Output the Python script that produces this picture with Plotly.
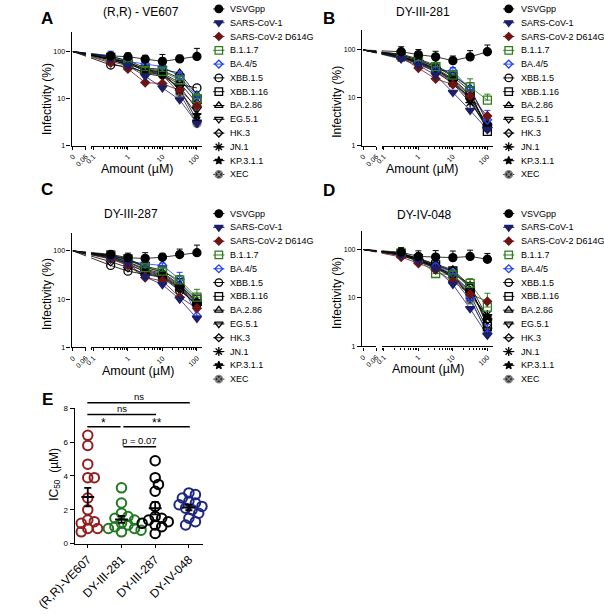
import numpy as np
import plotly.graph_objects as go

W, H = 604, 614
FONT = "Arial, Liberation Sans, sans-serif"

# ---------------- data ----------------
X_DOSE = [0, 0.316, 1, 3.16, 10, 31.6, 100]          # µM
ZERO_POS = 0.0254   # stand-in position used to show dose 0 on the broken log axis

SERIES = ["VSVGpp", "SARS-CoV-1", "SARS-CoV-2 D614G", "B.1.1.7", "BA.4/5", "XBB.1.5",
          "XBB.1.16", "BA.2.86", "EG.5.1", "HK.3", "JN.1", "KP.3.1.1", "XEC"]
PANEL_TITLES = ["(R,R) - VE607", "DY-III-281", "DY-III-287", "DY-IV-048"]
PANEL_LETTERS = ["A", "B", "C", "D"]

VE607 = [
    [100, 81, 78, 69, 62, 70, 79],
    [100, 70, 50, 30, 17, 9.5, 3],
    [100, 58, 43, 22, 21, 15, 7],
    [100, 72, 55, 40, 38, 25, 10],
    [100, 82, 62, 55, 48, 30, 11],
    [100, 52, 48, 36, 33, 20, 17],
    [100, 75, 60, 42, 40, 27, 10],
    [100, 78, 65, 45, 42, 35, 12],
    [100, 68, 52, 34, 30, 18, 6],
    [100, 65, 55, 40, 35, 22, 8],
    [100, 70, 58, 38, 34, 16, 3.5],
    [100, 72, 60, 42, 36, 15, 4.5],
    [100, 62, 50, 35, 32, 13, 3],
]
DY281 = [
    [100, 92, 80, 72, 60, 72, 92],
    [100, 65, 48, 30, 13, 5.5, 2.2],
    [100, 70, 42, 25, 19, 11, 4.2],
    [100, 80, 60, 45, 30, 17, 9],
    [100, 75, 52, 38, 37, 15, 3.5],
    [100, 72, 58, 42, 25, 12, 2.5],
    [100, 78, 62, 45, 28, 14, 2],
    [100, 82, 65, 48, 30, 16, 3],
    [100, 70, 55, 38, 22, 9, 2.2],
    [100, 75, 58, 40, 24, 11, 2.4],
    [100, 68, 52, 35, 20, 8, 2.6],
    [100, 72, 55, 40, 23, 10, 2.8],
    [100, 70, 50, 36, 21, 9.5, 2.3],
]
DY287 = [
    [100, 85, 72, 70, 74, 84, 92],
    [100, 70, 55, 29, 20, 10, 4],
    [100, 68, 50, 28, 24, 11, 6.5],
    [100, 80, 65, 45, 38, 25, 11],
    [100, 78, 62, 54, 50, 26, 4.5],
    [100, 50, 38, 33, 28, 15, 8],
    [100, 82, 68, 48, 40, 22, 10],
    [100, 80, 66, 46, 36, 20, 9],
    [100, 72, 55, 36, 30, 17, 7],
    [100, 60, 45, 34, 29, 16, 7.5],
    [100, 75, 58, 40, 32, 18, 8.5],
    [100, 76, 60, 42, 34, 19, 9],
    [100, 70, 52, 38, 31, 17, 8],
]
DY048 = [
    [100, 88, 72, 70, 68, 72, 63],
    [100, 75, 58, 40, 19, 6, 1.7],
    [100, 70, 52, 38, 22, 12, 8.5],
    [100, 85, 62, 32, 30, 20, 6.5],
    [100, 78, 60, 45, 32, 10, 1.8],
    [100, 80, 62, 46, 35, 16, 3],
    [100, 82, 65, 48, 36, 17, 2.6],
    [100, 84, 66, 50, 38, 18, 4],
    [100, 76, 58, 42, 28, 12, 2.2],
    [100, 80, 60, 44, 30, 14, 3.5],
    [100, 78, 60, 43, 27, 11, 4.5],
    [100, 82, 63, 45, 29, 13, 4],
    [100, 77, 58, 41, 26, 9, 2],
]
PANEL_DATA = [VE607, DY281, DY287, DY048]

# upper error bars (SD) for the series where they are visible
VSV_ERR = [[0, 15, 15, 14, 25, 14, 38],
           [0, 25, 22, 22, 15, 25, 35],
           [0, 12, 18, 22, 15, 25, 40],
           [0, 20, 22, 25, 25, 25, 20]]
BA45_ERR = [[0, 20, 8, 10, 25, 8, 3],
            [0, 8, 8, 6, 6, 6, 2],
            [0, 6, 6, 6, 6, 10, 1.5],
            [0, 6, 6, 6, 6, 3, 1]]
B117_ERR = [[0, 6, 6, 6, 6, 6, 3],
            [0, 6, 6, 6, 6, 8, 3],
            [0, 6, 6, 6, 6, 6, 5],
            [0, 25, 6, 6, 6, 5, 6]]

E_GROUPS = ["(R,R)-VE607", "DY-III-281", "DY-III-287", "DY-IV-048"]
IC50_VE607 = [6.4, 5.8, 4.7, 3.9, 3.9, 2.7, 2.0, 1.4, 1.3, 1.2, 0.9, 0.9, 0.7]
IC50_DY281 = [3.3, 2.4, 1.8, 1.6, 1.5, 1.4, 1.2, 1.1, 1.0, 0.9, 0.9, 0.8, 0.7]
IC50_DY287 = [4.9, 3.9, 3.5, 3.1, 2.2, 1.6, 1.5, 1.4, 1.3, 1.2, 1.1, 1.0, 0.6]
IC50_DY048 = [3.0, 2.9, 2.7, 2.5, 2.4, 2.3, 2.2, 2.1, 2.0, 1.8, 1.5, 1.3, 1.1]
IC50_DATA = [IC50_VE607, IC50_DY281, IC50_DY287, IC50_DY048]

# significance comparisons: (group a, group b, height in µM, label)
SIG = [(0, 3, 8.33, "ns"), (0, 2, 7.63, "ns"), (0, 1, 6.91, "*"),
       (1, 3, 6.91, "**"), (1, 2, 5.73, "p = 0.07")]

# ---------------- styles ----------------
SYMBOLS = ["circle", "triangle-down", "diamond", "square-open", "diamond-open", "circle-open",
           "square-open", "triangle-up-open", "triangle-down-open", "diamond-open",
           "asterisk-open", "star", "circle-x"]
COLORS = ["#000000", "#1b1f6b", "#6e1414", "#2f7d1f", "#2040f0", "#000000", "#000000",
          "#000000", "#000000", "#000000", "#000000", "#000000", "#2a2a2a"]
E_COLORS = ["#921f1f", "#217a21", "#000000", "#1c2580"]

# panel geometry in pixels
PANELS = [dict(ox=0, top=28.5, bottom=144, ytop=2.414),
          dict(ox=311.6, top=26, bottom=144, ytop=2.425),
          dict(ox=0, top=232, bottom=348.5, ytop=2.38),
          dict(ox=311.6, top=230, bottom=347.5, ytop=2.39)]
X_ONE = 96.5     # px of dose 1 (panel A)
DEC = 37.0       # px per decade


def sfx(n):
    return "" if n == 1 else str(n)


def lg(px):
    return (px - X_ONE) / DEC


def msize(sym, base):
    if sym.startswith("diamond"):
        return base - 1.5
    if sym == "star":
        return base - 1.5
    return base


fig = go.Figure()
layout = dict(width=W, height=H, margin=dict(l=0, r=0, t=0, b=0), autosize=False,
              paper_bgcolor="white", plot_bgcolor="rgba(0,0,0,0)", showlegend=False,
              font=dict(family=FONT, color="black"))
shapes, annotations = [], []

AX_COMMON = dict(showline=True, linecolor="black", linewidth=1.2, ticks="outside",
                 tickcolor="black", tickwidth=1.1, showgrid=False, zeroline=False,
                 fixedrange=True, tickfont=dict(size=7, family=FONT, color="black"))

xs_plot = [ZERO_POS if d == 0 else d for d in X_DOSE]
minor_vals = [m * 10.0 ** e for e in (-1, 0, 1) for m in range(2, 10)] + [0.09]

for p, g in enumerate(PANELS):
    ox = g["ox"]
    nz, nm, ny = 2 * p + 1, 2 * p + 2, p + 1
    yid = "y" + sfx(ny)
    layout["xaxis" + sfx(nz)] = dict(
        AX_COMMON, type="log", domain=[(36 + ox) / W, (51.5 + ox) / W],
        range=[lg(36), lg(51.5)], anchor=yid, tickmode="array",
        tickvals=[ZERO_POS, 0.06], ticktext=["0", "0.06"], tickangle=-45, ticklen=3)
    layout["xaxis" + sfx(nm)] = dict(
        AX_COMMON, type="log", domain=[(57 + ox) / W, (176 + ox) / W],
        range=[lg(57), lg(176)], anchor=yid, tickmode="array",
        tickvals=[0.1, 1, 10, 100], ticktext=["0.1", "1", "10", "100"], tickangle=-45,
        ticklen=3, minor=dict(tickvals=minor_vals, ticks="outside", ticklen=2,
                              tickcolor="black", tickwidth=0.8))
    layout["yaxis" + sfx(ny)] = dict(
        AX_COMMON, type="log", domain=[1 - g["bottom"] / H, 1 - g["top"] / H],
        range=[0, g["ytop"]], anchor="x" + sfx(nz), tickmode="array",
        tickvals=[1, 10, 100], ticktext=["1", "10", "100"], ticklen=4)

    data = PANEL_DATA[p]
    # connecting lines in both segments of the broken axis (clipped per segment)
    for s in range(len(SERIES)):
        for nx in (nz, nm):
            fig.add_trace(go.Scatter(
                x=xs_plot, y=data[s], mode="lines", xaxis="x" + sfx(nx), yaxis=yid,
                line=dict(color=COLORS[s], width=0.8), hoverinfo="skip"))
    # markers (drawn last series first so VSVGpp ends on top)
    for s in reversed(range(len(SERIES))):
        err = None
        if s == 0:
            err = VSV_ERR[p]
        elif s == 4:
            err = BA45_ERR[p]
        elif s == 3:
            err = B117_ERR[p]
        line_col = "#888888" if SYMBOLS[s] == "circle-x" else COLORS[s]
        tr = dict(x=xs_plot, y=data[s], mode="markers", xaxis="x" + sfx(nm), yaxis=yid,
                  cliponaxis=False, hoverinfo="skip",
                  marker=dict(symbol=SYMBOLS[s], size=msize(SYMBOLS[s], 8), color=COLORS[s],
                              line=dict(color=line_col, width=1.3)))
        if err is not None:
            tr["error_y"] = dict(type="data", array=err, arrayminus=[0] * len(err),
                                 symmetric=False, color=COLORS[s], thickness=1, width=3)
        fig.add_trace(go.Scatter(**tr))

# ---------------- panel E ----------------
EX, EY = "x9", "y5"
E_LEFT, E_RIGHT, E_BOTTOM, E_TOP = 39.3, 176.7, 547.7, 410.3
E_XRANGE, E_YRANGE = [-0.39, 3.41], [0, 8]
XPX_E = (E_RIGHT - E_LEFT) / (E_XRANGE[1] - E_XRANGE[0])
YPX_E = (E_BOTTOM - E_TOP) / (E_YRANGE[1] - E_YRANGE[0])
layout["xaxis9"] = dict(
    AX_COMMON, domain=[E_LEFT / W, E_RIGHT / W], range=E_XRANGE, anchor=EY,
    tickmode="array", tickvals=[0, 1, 2, 3], ticktext=E_GROUPS, tickangle=-45, ticklen=3,
    tickfont=dict(size=12, family=FONT, color="black"))
layout["yaxis5"] = dict(
    AX_COMMON, domain=[1 - E_BOTTOM / H, 1 - E_TOP / H], range=E_YRANGE, anchor=EX,
    tickmode="array", tickvals=[0, 2, 4, 6, 8], ticklen=4,
    tickfont=dict(size=8, family=FONT, color="black"))


def swarm(vals, step=3.5, mind=7.0):
    placed = []
    offs = [0.0] * len(vals)
    order = sorted(range(len(vals)), key=lambda i: -vals[i])
    for i in order:
        py = vals[i] * YPX_E
        k = 0
        while True:
            cand = ((k + 1) // 2) * step * (1 if k % 2 else -1) if k else 0.0
            if all(np.hypot(cand - qx, py - qy) >= mind for qx, qy in placed):
                break
            k += 1
        placed.append((cand, py))
        offs[i] = cand / XPX_E
    return offs


for gi, vals in enumerate(IC50_DATA):
    offs = swarm(vals)
    fig.add_trace(go.Scatter(
        x=[gi + o for o in offs], y=vals, mode="markers", xaxis=EX, yaxis=EY,
        cliponaxis=False, hoverinfo="skip",
        marker=dict(symbol="circle-open", size=9.5, color=E_COLORS[gi],
                    line=dict(width=2, color=E_COLORS[gi]))))
    arr = np.array(vals)
    mean = float(arr.mean())
    sem = float(arr.std(ddof=1) / np.sqrt(len(arr)))
    fig.add_trace(go.Scatter(
        x=[gi - 0.19, gi + 0.19], y=[mean, mean], mode="lines", xaxis=EX, yaxis=EY,
        line=dict(color="black", width=2), hoverinfo="skip"))
    fig.add_trace(go.Scatter(
        x=[gi], y=[mean], mode="markers", xaxis=EX, yaxis=EY, hoverinfo="skip",
        marker=dict(size=1, color="rgba(0,0,0,0)"),
        error_y=dict(type="data", array=[sem], color="black", thickness=1.8, width=3.5)))

# ---------------- overlay (pixel coordinates) for legends, brackets & text ----------------
OX, OY = "x10", "y6"
layout["xaxis10"] = dict(domain=[0, 1], range=[0, W], visible=False, anchor=OY, fixedrange=True)
layout["yaxis6"] = dict(domain=[0, 1], range=[H, 0], visible=False, anchor=OX, fixedrange=True)


def e_px(cat):
    return E_LEFT + (cat - E_XRANGE[0]) * XPX_E


def e_py(v):
    return E_BOTTOM - (v - E_YRANGE[0]) * YPX_E


for a, b, yv, lab in SIG:
    x0 = e_px(a) + (2 if a == 1 else -0.5)
    x1 = e_px(b) + (-1 if (a == 0 and b == 1) else 1)
    y = e_py(yv)
    shapes.append(dict(type="line", xref=OX, yref=OY, x0=x0, x1=x1, y0=y, y1=y,
                       line=dict(color="black", width=1.6)))
    big = lab.startswith("*")
    annotations.append(dict(xref=OX, yref=OY, x=(x0 + x1) / 2, y=y - (4 if big else 6.5),
                            text=lab, showarrow=False, xanchor="center", yanchor="middle",
                            font=dict(size=12 if big else 9.5, family=FONT, color="black")))

LEG_POS = [(194, 204, 5), (505, 516, 5), (194, 204, 212.7), (505, 516, 212.7)]
ROW = 14
for s in range(len(SERIES)):
    lx, ly, mx, my = [], [], [], []
    for (mxp, txp, y0) in LEG_POS:
        yy = y0 + ROW * s
        lx += [mxp - 6, mxp + 6, None]
        ly += [yy, yy, None]
        mx.append(mxp)
        my.append(yy)
        annotations.append(dict(xref=OX, yref=OY, x=txp, y=yy, text=SERIES[s],
                                showarrow=False, xanchor="left", yanchor="middle",
                                font=dict(size=9, family=FONT, color="black")))
    fig.add_trace(go.Scatter(x=lx, y=ly, mode="lines", xaxis=OX, yaxis=OY, hoverinfo="skip",
                             line=dict(color=COLORS[s], width=1)))
    line_col = "#888888" if SYMBOLS[s] == "circle-x" else COLORS[s]
    fig.add_trace(go.Scatter(x=mx, y=my, mode="markers", xaxis=OX, yaxis=OY, hoverinfo="skip",
                             cliponaxis=False,
                             marker=dict(symbol=SYMBOLS[s], size=msize(SYMBOLS[s], 7.5),
                                         color=COLORS[s],
                                         line=dict(color=line_col, width=1.3))))

TEXTS = [
    # (x, y, text, size, bold, angle)
    (10, 15, "A", 17, True, 0), (312, 15, "B", 17, True, 0),
    (10, 188, "C", 17, True, 0), (312, 189, "D", 17, True, 0), (10, 401, "E", 17, True, 0),
    (110, 8, "(R,R) - VE607", 12, False, 0), (413, 8, "DY-III-281", 12, False, 0),
    (100, 213, "DY-III-287", 12, False, 0), (415, 214, "DY-IV-048", 12, False, 0),
    (9, 96, "Infectivity (%)", 12, False, -90), (320, 99, "Infectivity (%)", 12, False, -90),
    (9, 294, "Infectivity (%)", 12, False, -90), (320, 293, "Infectivity (%)", 12, False, -90),
    (107, 167, "Amount (µM)", 12.5, False, 0), (413, 167, "Amount (µM)", 12.5, False, 0),
    (108, 372, "Amount (µM)", 12.5, False, 0), (419, 370, "Amount (µM)", 12.5, False, 0),
    (18, 477, "IC<sub>50</sub>  (µM)", 12, False, -90),
]
for x, y, t, sz, b, ang in TEXTS:
    annotations.append(dict(xref=OX, yref=OY, x=x, y=y, text=f"<b>{t}</b>" if b else t,
                            showarrow=False, xanchor="center", yanchor="middle",
                            textangle=ang, font=dict(size=sz, family=FONT, color="black")))

layout["shapes"] = shapes
layout["annotations"] = annotations
fig.update_layout(**layout)
fig.write_html("out.html")
